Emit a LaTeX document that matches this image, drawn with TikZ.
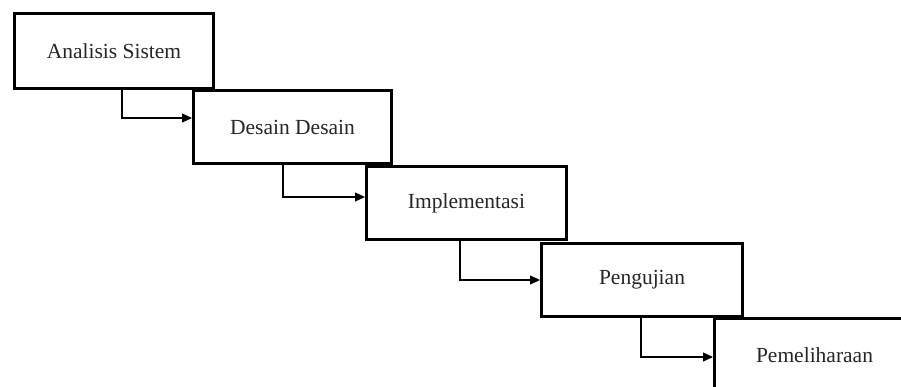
\documentclass[tikz,border=0pt]{standalone}
\usepackage{fontspec}
\setmainfont{Liberation Serif}
\usetikzlibrary{arrows.meta}
\begin{document}
\begin{tikzpicture}[x=1pt,y=-1pt,
  box/.style={draw=black, line width=3pt, fill=white, anchor=north west,
    inner sep=0pt, font=\fontsize{21.5}{25}\selectfont, text=black!85},
  conn/.style={line width=1.2pt, -{Triangle[length=10pt,width=9pt]}}]
\useasboundingbox (0,0) rectangle (901,387);
\clip (0,0) rectangle (901,387);
\node[box, minimum width=199pt, minimum height=75pt] (a) at (13,12) {Analisis Sistem};
\node[box, minimum width=198pt, minimum height=73pt] (b) at (192,89) {Desain Desain};
\node[box, minimum width=200pt, minimum height=73pt] (c) at (365,165) {Implementasi};
\node[box, minimum width=201pt, minimum height=73pt] (d) at (540,242) {Pengujian};
\node[box, minimum width=200pt, minimum height=73pt] (e) at (713,317) {Pemeliharaan};
\draw[conn] ([xshift=109pt]a.south west) |- ([yshift=-29pt]b.north west);
\draw[conn] ([xshift=91pt]b.south west) |- ([yshift=-32pt]c.north west);
\draw[conn] ([xshift=95pt]c.south west) |- ([yshift=-38pt]d.north west);
\draw[conn] ([xshift=101pt]d.south west) |- ([yshift=-40pt]e.north west);
\end{tikzpicture}
\end{document}
